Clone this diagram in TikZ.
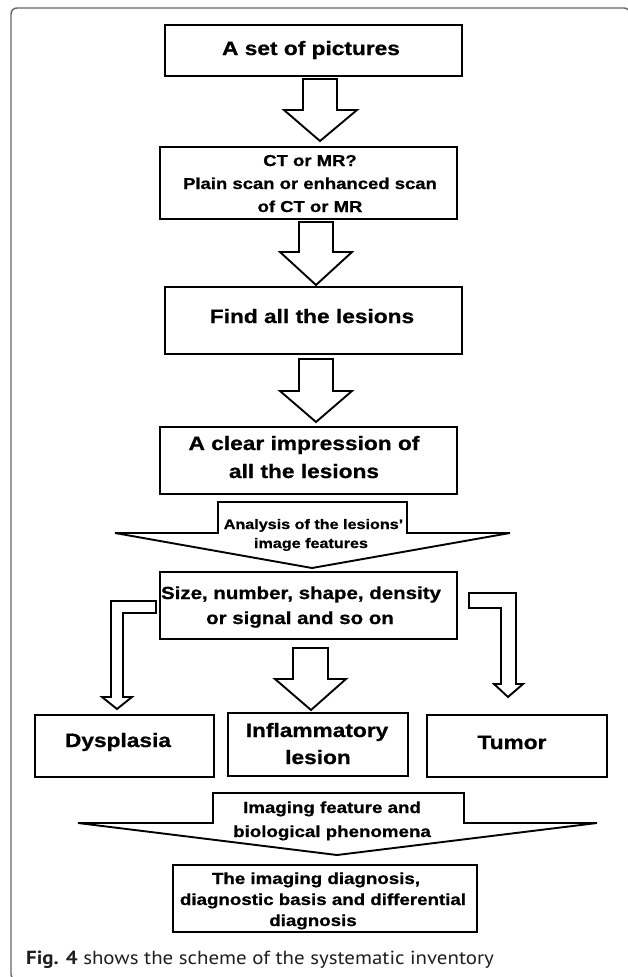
\documentclass[tikz,border=0pt]{standalone}
\usepackage{fontspec}
\newfontfamily\af{Liberation Sans}[FakeStretch=1.17, BoldFeatures={FakeBold=0.9}]
\newfontfamily\capf{PT Sans}[FakeStretch=1.1]
\newcommand\fs[1]{\fontsize{#1pt}{#1pt}\selectfont}
\begin{document}
\begin{tikzpicture}[x=1pt,y=-1pt,
  box/.style={draw, line width=2pt, rectangle, inner sep=0pt, outer sep=0pt},
  arr/.style={draw, line width=1.9pt, fill=white, line join=miter},
  tx/.style={anchor=base, inner sep=0pt, outer sep=0pt, font=\af\bfseries},
  big/.style={tx, font=\af\bfseries\fs{19.4}},
  mid/.style={tx, font=\af\bfseries\fs{16}},
  frame/.style={draw=black!60, line width=1.4pt, rounded corners=6pt}]
\useasboundingbox (0,0) rectangle (627,977);
\draw[frame] (11,8) rectangle (630,980);

% boxes
\node[box, minimum width=297pt, minimum height=51pt] (b1) at (313.5,50.5) {};
\node[box, minimum width=297pt, minimum height=72pt] (b2) at (308.5,183) {};
\node[box, minimum width=297pt, minimum height=67pt] (b3) at (313.5,320.5) {};
\node[box, minimum width=297pt, minimum height=67pt] (b4) at (308.5,460.5) {};
\node[box, minimum width=297pt, minimum height=67pt] (b5) at (308.5,605.5) {};
\node[box, minimum width=179pt, minimum height=62pt] (b6) at (124.5,746) {};
\node[box, minimum width=180pt, minimum height=63pt] (b7) at (318,744.5) {};
\node[box, minimum width=180pt, minimum height=62pt] (b8) at (517,746) {};
\node[box, minimum width=304pt, minimum height=67pt] (b9) at (325,898.5) {};

% block arrows
\draw[arr] (303,79) -- (337,79) -- (337,110) -- (357,110) -- (320,141) -- (284,110) -- (303,110) -- cycle;
\draw[arr] (299,222) -- (333,222) -- (333,252) -- (352,252) -- (316,285) -- (280,252) -- (299,252) -- cycle;
\draw[arr] (299,359) -- (333,359) -- (333,391) -- (352,391) -- (316,422) -- (280,391) -- (299,391) -- cycle;
\draw[arr] (218,502) -- (407,502) -- (407,533) -- (510,533) -- (312,568) -- (115,533) -- (218,533) -- cycle;
\draw[arr] (156,601) -- (111,601) -- (111,697) -- (102,697) -- (117,709) -- (132,697) -- (123,697) -- (123,613) -- (156,613) -- cycle;
\draw[arr] (469,593) -- (516,593) -- (516,684) -- (523,684) -- (508,697) -- (494,684) -- (501,684) -- (501,608) -- (469,608) -- cycle;
\draw[arr] (293,648) -- (328,648) -- (328,679) -- (346,679) -- (311,710) -- (275,679) -- (293,679) -- cycle;
\draw[arr] (213,793) -- (464,793) -- (464,823) -- (597,823) -- (337,855) -- (78,823) -- (213,823) -- cycle;

% texts
\node[big] (t1) at (311,55) {A set of pictures};
\node[tx, font=\af\bfseries\fs{15.8}] (t2a) at (310,166) {CT or MR?};
\node[tx, font=\af\bfseries\fs{15.8}] (t2b) at (310,189) {Plain scan or enhanced scan};
\node[tx, font=\af\bfseries\fs{15.8}] (t2c) at (310,212) {of CT or MR};
\node[big] (t3) at (312,323) {Find all the lesions};
\node[big] (t4a) at (304,450) {A clear impression of};
\node[big] (t4b) at (304,478) {all the lesions};
\node[tx, font=\af\bfseries\fs{13.8}] (ta1) at (313.5,529) {Analysis of the lesions\textquoteright};
\node[tx, font=\af\bfseries\fs{13.8}] (ta2) at (311,548) {image features};
\node[tx, font=\af\bfseries\fs{17.5}] (t5a) at (301,599) {Size, number, shape, density};
\node[tx, font=\af\bfseries\fs{17.5}] (t5b) at (300,624) {or signal and so on};
\node[big] (t6) at (118,747) {Dysplasia};
\node[big] (t7a) at (317,737) {Inflammatory};
\node[big] (t7b) at (318,764) {lesion};
\node[big] (t8) at (512,749) {Tumor};
\node[mid] (ti1) at (332,813) {Imaging feature and};
\node[mid] (ti2) at (332,837) {biological phenomena};
\node[mid] (t9a) at (316,884) {The imaging diagnosis,};
\node[mid] (t9b) at (323,905) {diagnostic basis and differential};
\node[mid] (t9c) at (313,926) {diagnosis};

% caption
\node[anchor=base west, inner sep=0pt, font=\capf\fs{19}, text=black!88] (cap) at (26,964) {\textbf{Fig. 4} shows the scheme of the systematic inventory};
\end{tikzpicture}
\end{document}
